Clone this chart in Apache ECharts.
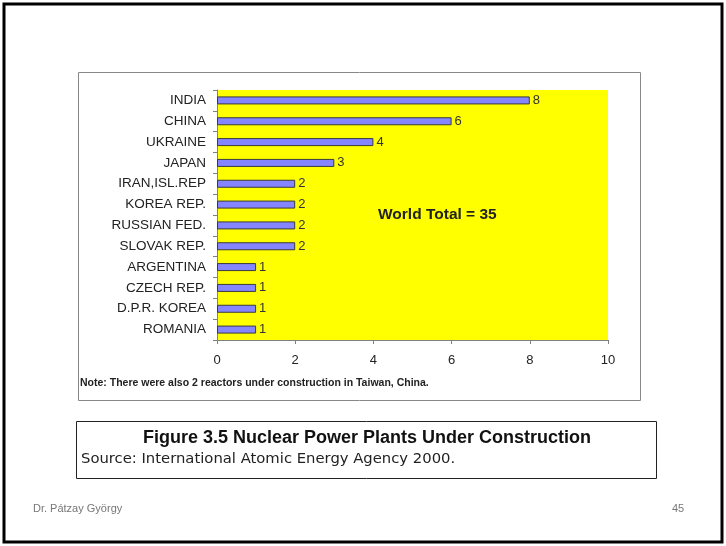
<!DOCTYPE html>
<html>
<head>
<meta charset="utf-8">
<script src="https://cdn.jsdelivr.net/npm/echarts@6/dist/echarts.min.js"></script>
<style>
  html, body { margin: 0; padding: 0; background: #fff; }
  #chart { width: 726px; height: 546px; }
</style>
</head>
<body>
<div id="chart"></div>
<script>
// Reactors under construction by country
const countries = ['INDIA', 'CHINA', 'UKRAINE', 'JAPAN', 'IRAN,ISL.REP', 'KOREA REP.',
  'RUSSIAN FED.', 'SLOVAK REP.', 'ARGENTINA', 'CZECH REP.', 'D.P.R. KOREA', 'ROMANIA'];
const reactors = [8, 6, 4, 3, 2, 2, 2, 2, 1, 1, 1, 1];
const xTicks = [0, 2, 4, 6, 8, 10];

const chart = echarts.init(document.getElementById('chart'), null, { renderer: 'canvas' });

chart.setOption({
  backgroundColor: '#ffffff',
  animation: false,
  grid: {
    left: 217, top: 90, width: 391, height: 250,
    show: true, backgroundColor: '#FFFF00', borderWidth: 0
  },
  xAxis: {
    type: 'value',
    min: xTicks[0], max: xTicks[xTicks.length - 1], interval: 2,
    axisLine: { show: true, lineStyle: { color: '#808080', width: 1 } },
    axisTick: { show: true, length: 4, lineStyle: { color: '#808080' } },
    splitLine: { show: false },
    axisLabel: { color: '#222', fontFamily: 'Liberation Sans, Arial', fontSize: 13, margin: 14 }
  },
  yAxis: {
    type: 'category',
    data: countries,
    inverse: true,
    axisLine: { show: true, lineStyle: { color: '#808080', width: 1 } },
    axisTick: { show: true, length: 4, lineStyle: { color: '#808080' } },
    axisLabel: { color: '#222', fontFamily: 'Liberation Sans, Arial', fontSize: 13.5, margin: 11 }
  },
  series: [{
    type: 'bar',
    data: reactors,
    barWidth: 8,
    itemStyle: { color: '#8585FF', borderColor: '#3a3a3a', borderWidth: 1 },
    label: {
      show: true, position: 'right', distance: 3,
      color: '#333', fontFamily: 'Liberation Sans, Arial', fontSize: 13
    }
  }],
  graphic: [
    // slide frame
    { type: 'rect', shape: { x: 4, y: 4, width: 718, height: 538 },
      style: { fill: 'none', stroke: '#000', lineWidth: 3 }, z: 10 },
    // chart panel frame
    { type: 'rect', shape: { x: 78.5, y: 72.5, width: 562, height: 328 },
      style: { fill: 'none', stroke: '#888', lineWidth: 1 }, z: 1 },
    { type: 'text', left: 378, top: 207,
      style: { text: 'World Total = 35', font: 'bold 15.5px "Liberation Sans", Arial', fill: '#222' }, z: 5 },
    { type: 'text', left: 80, top: 378,
      style: { text: 'Note: There were also 2 reactors under construction in Taiwan, China.',
        font: 'bold 10.5px "Liberation Sans", Arial', fill: '#222' }, z: 5 },
    // caption box
    { type: 'rect', shape: { x: 76.5, y: 421.5, width: 580, height: 57 },
      style: { fill: '#fff', stroke: '#222', lineWidth: 1 }, z: 1 },
    { type: 'text', x: 367, y: 438,
      style: { text: 'Figure 3.5 Nuclear Power Plants Under Construction',
        font: 'bold 18px "Liberation Sans", Arial', fill: '#111', textAlign: 'center', textVerticalAlign: 'middle' }, z: 5 },
    { type: 'text', left: 81, top: 452,
      style: { text: 'Source: International Atomic Energy Agency 2000.',
        font: '14.8px "DejaVu Sans", Verdana', fill: '#222' }, z: 5 },
    // footer
    { type: 'text', left: 33, top: 503,
      style: { text: 'Dr. Pátzay György', font: '11px "Liberation Sans", Arial', fill: '#777' }, z: 5 },
    { type: 'text', left: 672, top: 503,
      style: { text: '45', font: '11px "Liberation Sans", Arial', fill: '#777' }, z: 5 }
  ]
});
</script>
</body>
</html>
